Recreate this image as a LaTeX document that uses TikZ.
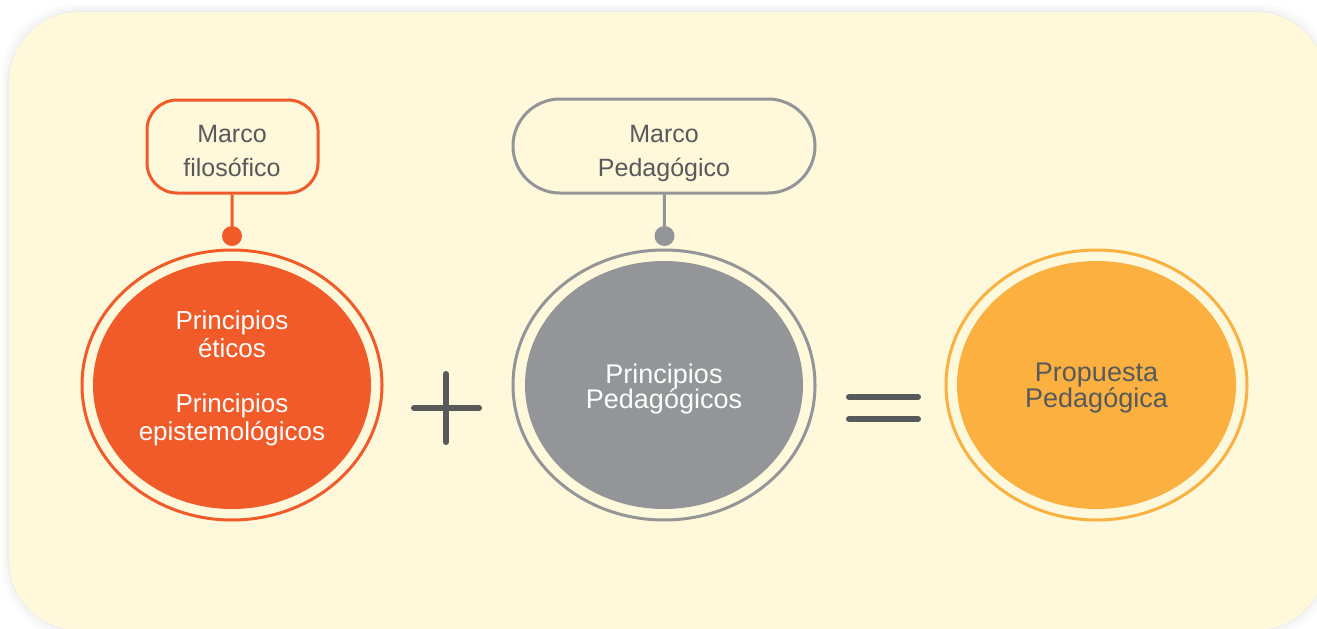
\documentclass[tikz,border=0pt]{standalone}
\usepackage{fontspec}
\setmainfont{Liberation Sans}
\usetikzlibrary{shapes.geometric}
\definecolor{bgcream}{HTML}{FFF8DB}
\definecolor{filorange}{HTML}{F15A29}
\definecolor{pedgray}{HTML}{939598}
\definecolor{propyellow}{HTML}{FBB040}
\definecolor{signgray}{HTML}{58595B}
\tikzset{
  outerring/.style={ellipse, draw=#1, line width=3pt, fill=bgcream,
    minimum width=300pt, minimum height=270pt, inner sep=0pt},
  innerdisc/.style={ellipse, fill=#1, minimum width=278pt,
    minimum height=248pt, inner sep=0pt},
  marcobox/.style={draw=#1, line width=3pt, fill=bgcream, inner sep=0pt},
  pin/.style={circle, fill=#1, minimum size=20pt, inner sep=0pt},
  signbar/.style={signgray, line width=6pt, line cap=round},
}
\begin{document}
\begin{tikzpicture}[x=1pt,y=-1pt]
\useasboundingbox (0,0) rectangle (1317,629);
\clip (0,0) rectangle (1317,629);

% background card with soft shadow
\foreach \s/\o in {8/0.015,5/0.02,2/0.03}
  \fill [black, opacity=\o, rounded corners=74pt] (9-\s,12-\s) rectangle (1326+\s,630+\s);
\fill [bgcream, rounded corners=70pt] (9,12) rectangle (1326,630);

% the two frames
\node [marcobox=filorange, rounded corners=30pt, minimum width=171pt, minimum height=93pt] (filbox) at (232.5,146.5) {};
\node [text=signgray, font=\fontsize{25}{34}\selectfont, align=center] (filtext) at (232,151) {Marco\\filosófico};
\node [pin=filorange] (filpin) at (232,236) {};
\draw [filorange, line width=3pt] (filbox) -- (filpin);

\node [marcobox=pedgray, rounded corners=47pt, minimum width=302pt, minimum height=94pt] (pedbox) at (664,146) {};
\node [text=signgray, font=\fontsize{25}{34}\selectfont, align=center] (pedtext) at (664,153.5) {Marco\\Pedagógico};
\node [pin=pedgray] (pedpin) at (664.5,236) {};
\draw [pedgray, line width=3pt] (pedbox) -- (pedpin);

% circles
\node [outerring=filorange] (eticring) at (232,385) {};
\node [innerdisc=filorange] (eticdisc) at (232,385) {};
\node [text=white, font=\fontsize{26}{27.7}\selectfont, align=center] (etictext) at (232,378)
  {Principios\\éticos\\[27.7pt]Principios\\epistemológicos};

\node [outerring=pedgray, minimum width=302pt] (pedring) at (664,385) {};
\node [innerdisc=pedgray] (peddisc) at (664,385) {};
\node [text=white, font={\fontsize{27}{25}\selectfont\lineskiplimit=-50pt}, align=center] (pedprin) at (664,389)
  {Principios\\Pedagógicos};

\node [outerring=propyellow, minimum width=301pt] (propring) at (1096.5,385) {};
\node [innerdisc=propyellow, minimum width=279pt] (propdisc) at (1096.5,385) {};
\node [text=signgray, font=\fontsize{27}{26.5}\selectfont, align=center] (proptext) at (1096.5,388)
  {Propuesta\\Pedagógica};

% plus and equals
\draw [signbar] (446,374) -- (446,442);
\draw [signbar] (414,408) -- (479,408);
\draw [signbar] (849,397) -- (918,397);
\draw [signbar] (849,419) -- (918,419);
\end{tikzpicture}
\end{document}
